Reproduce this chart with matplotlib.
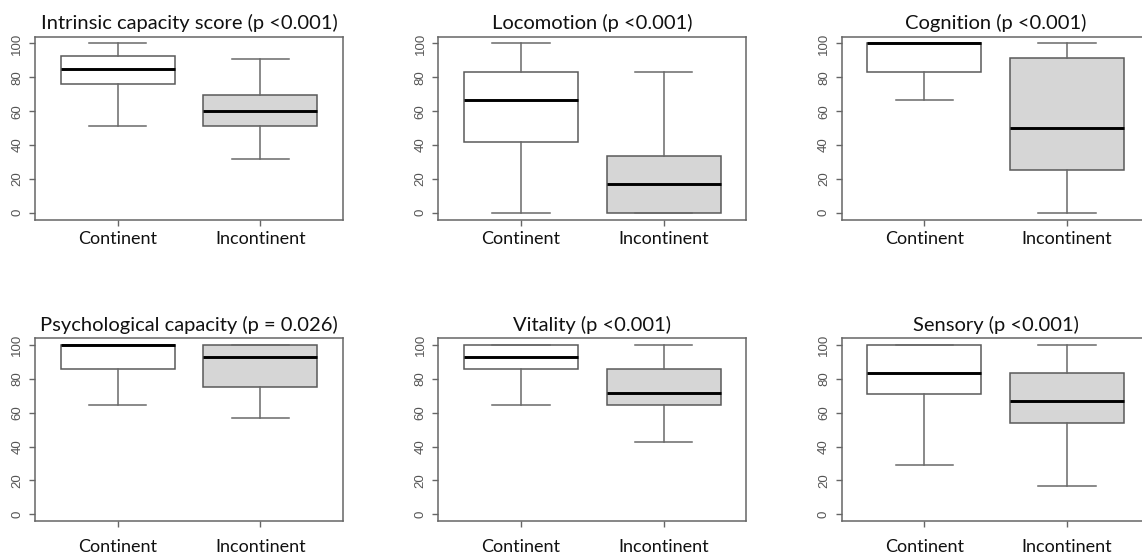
import matplotlib
matplotlib.use("Agg")
import matplotlib.pyplot as plt
import numpy as np

plt.rcParams["font.family"] = ["Lato", "DejaVu Sans"]

titles = ["Intrinsic capacity score (p <0.001)", "Locomotion (p <0.001)", "Cognition (p <0.001)",
          "Psychological capacity (p = 0.026)", "Vitality (p <0.001)", "Sensory (p <0.001)"]
groups = ["Continent", "Incontinent"]

# lower whisker, Q1, median, Q3, upper whisker
continent = [[51.0, 76.0, 85.2, 92.5, 100.0],
             [0.0, 41.7, 66.7, 83.3, 100.0],
             [66.7, 83.3, 100.0, 100.0, 100.0],
             [64.3, 85.7, 100.0, 100.0, 100.0],
             [64.3, 85.7, 92.9, 100.0, 100.0],
             [29.2, 70.8, 83.3, 100.0, 100.0]]
incontinent = [[31.5, 51.4, 60.2, 69.4, 90.7],
               [0.0, 0.0, 16.7, 33.3, 83.3],
               [0.0, 25.0, 50.0, 91.7, 100.0],
               [57.1, 75.0, 92.9, 100.0, 100.0],
               [42.9, 64.3, 71.4, 85.7, 100.0],
               [16.7, 54.2, 66.7, 83.3, 100.0]]
yticks = [0, 20, 40, 60, 80, 100]

W, H = 1142, 555
fig = plt.figure(figsize=(W / 100, H / 100), dpi=100)

col_left = [35, 438.3, 841.7]
row_top = [36.7, 338.3]
ax_w, ax_h = 308, 182.8
xpad = [4, 9]  # bottom row labels sit lower

def five_to_stats(v, label):
    return dict(whislo=v[0], q1=v[1], med=v[2], q3=v[3], whishi=v[4], label=label, fliers=[])

for i in range(6):
    r, c = divmod(i, 3)
    ax = fig.add_axes([col_left[c] / W, 1 - (row_top[r] + ax_h) / H, ax_w / W, ax_h / H])
    stats = [five_to_stats(continent[i], groups[0]), five_to_stats(incontinent[i], groups[1])]
    bp = ax.bxp(stats, positions=[1, 2], widths=0.8, capwidths=0.4, patch_artist=True,
                showfliers=False,
                boxprops=dict(edgecolor="#5a5a5a", linewidth=1.1),
                whiskerprops=dict(color="#6a6a6a", linewidth=1.1),
                capprops=dict(color="#6a6a6a", linewidth=1.1),
                medianprops=dict(color="black", linewidth=2.1, solid_capstyle="butt"))
    bp["boxes"][0].set_facecolor("white")
    bp["boxes"][1].set_facecolor("#d6d6d6")
    for b in bp["boxes"]:
        b.set_zorder(1)

    ax.set_xlim(0.42, 2.58)
    ax.set_ylim(-4, 104)
    ax.set_yticks(yticks)
    ax.set_xticks([1, 2])
    ax.set_xticklabels(groups, fontsize=13, color="#111111")
    for lab in ax.get_yticklabels():
        lab.set_rotation(90)
        lab.set_family(["Liberation Sans", "DejaVu Sans"])
        lab.set_fontsize(9.5)
        lab.set_color("#555555")
        lab.set_va("center")
    ax.tick_params(axis="y", length=4, width=1, color="#666666", pad=4.5)
    ax.tick_params(axis="x", length=4, width=1, color="#666666", pad=xpad[r])
    for s in ax.spines.values():
        s.set_color("#666666")
        s.set_linewidth(1.1)
    ax.set_title(titles[i], fontsize=14.5, color="#111111", pad=5.3)

fig.savefig("out.png", dpi=100)
